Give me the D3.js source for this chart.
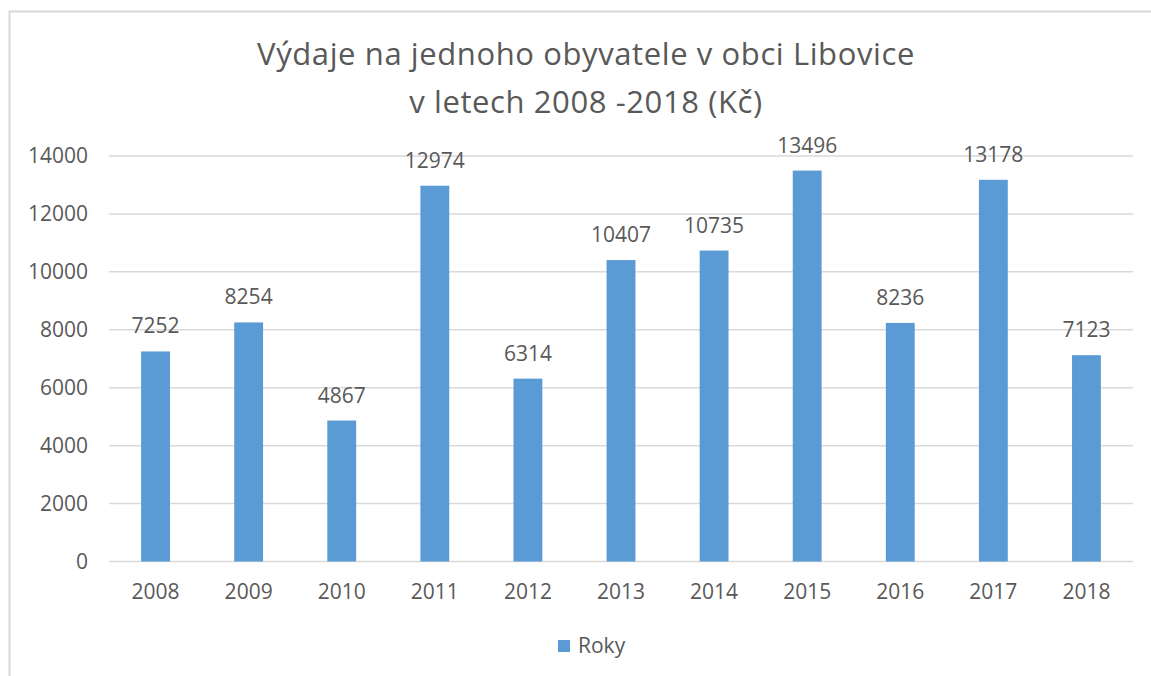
<!DOCTYPE html>
<html>
<head>
<meta charset="utf-8">
<script src="https://cdn.jsdelivr.net/npm/d3@7"></script>
<style>
  body { margin: 0; background: #fff; }
  svg { display: block; font-family: "Open Sans", sans-serif; }
</style>
</head>
<body>
<svg id="chart"></svg>
<script>
// data
var years = ["2008", "2009", "2010", "2011", "2012", "2013", "2014", "2015", "2016", "2017", "2018"];
var values = [7252, 8254, 4867, 12974, 6314, 10407, 10735, 13496, 8236, 13178, 7123];
var yTicks = [0, 2000, 4000, 6000, 8000, 10000, 12000, 14000];
var titleLines = ["Výdaje na jednoho obyvatele v obci Libovice", "v letech 2008 -2018 (Kč)"];
var seriesName = "Roky";

var svgWidth = 1151, svgHeight = 676;
var margin = {top: 156, right: 18, bottom: 114.5, left: 109};
var textColor = "#595959";
var barColor = "#5b9bd5";
var fontSize = "21px";

var svg = d3.select("#chart")
  .attr("width", svgWidth)
  .attr("height", svgHeight);

// outer chart frame (cut off at right and bottom)
svg.append("path")
  .attr("d", "M9.5,676 L9.5,11.5 L1151,11.5")
  .attr("fill", "none")
  .attr("stroke", "#d9d9d9")
  .attr("stroke-width", 2);

// title
svg.append("text")
  .attr("x", 586)
  .attr("y", 65)
  .attr("text-anchor", "middle")
  .attr("fill", textColor)
  .attr("font-size", "31px")
  .attr("letter-spacing", "0.6px")
  .selectAll("tspan")
  .data(titleLines)
  .enter()
  .append("tspan")
  .attr("x", 586)
  .attr("dy", function(d, i) { return i == 0 ? 0 : 48; })
  .text(function(d) { return d; });

// scales
var xScale = d3.scaleBand()
  .range([margin.left, svgWidth - margin.right])
  .domain(years);

var yScale = d3.scaleLinear()
  .range([svgHeight - margin.bottom, margin.top])
  .domain([0, 14000]);

var barWidth = xScale.bandwidth() * 0.31;

// grid lines
svg.append("g")
  .selectAll("line")
  .data(yTicks)
  .enter()
  .append("line")
  .attr("x1", margin.left)
  .attr("x2", svgWidth - margin.right)
  .attr("y1", function(d) { return yScale(d); })
  .attr("y2", function(d) { return yScale(d); })
  .attr("stroke", "#d9d9d9")
  .attr("stroke-width", 1.5);

// y axis labels
var yAxis = svg.append("g")
  .attr("transform", "translate(" + (margin.left - 21) + ",0)")
  .call(d3.axisLeft(yScale).tickValues(yTicks).tickSize(0).tickPadding(0).tickFormat(d3.format("d")));
yAxis.select(".domain").remove();
yAxis.selectAll("text")
  .attr("fill", textColor)
  .attr("font-size", fontSize)
  .attr("font-family", "Open Sans, sans-serif");

// x axis labels
var xAxis = svg.append("g")
  .attr("transform", "translate(0," + yScale(0) + ")")
  .call(d3.axisBottom(xScale).tickSize(0).tickPadding(22.5));
xAxis.select(".domain").remove();
xAxis.selectAll("text")
  .attr("fill", textColor)
  .attr("font-size", fontSize)
  .attr("font-family", "Open Sans, sans-serif");

// bars
svg.selectAll(".rects")
  .data(values)
  .enter()
  .append("rect")
  .attr("class", "rects")
  .attr("x", function(d, i) { return xScale(years[i]) + (xScale.bandwidth() - barWidth) / 2; })
  .attr("y", function(d) { return yScale(d); })
  .attr("width", barWidth)
  .attr("height", function(d) { return yScale(0) - yScale(d); })
  .attr("fill", barColor);

// value labels
svg.selectAll(".vlabel")
  .data(values)
  .enter()
  .append("text")
  .attr("class", "vlabel")
  .attr("x", function(d, i) { return xScale(years[i]) + xScale.bandwidth() / 2; })
  .attr("y", function(d) { return yScale(d) - 18; })
  .attr("text-anchor", "middle")
  .attr("fill", textColor)
  .attr("font-size", fontSize)
  .text(function(d) { return d; });

// legend
var legend = svg.append("g").attr("transform", "translate(558,640)");
legend.append("rect")
  .attr("width", 12)
  .attr("height", 12)
  .attr("fill", barColor);
legend.append("text")
  .attr("x", 20)
  .attr("y", 12.5)
  .attr("fill", textColor)
  .attr("font-size", fontSize)
  .text(seriesName);
</script>
</body>
</html>
